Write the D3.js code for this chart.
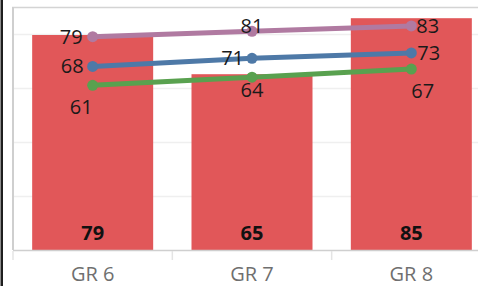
<!DOCTYPE html>
<html>
<head>
<meta charset="utf-8">
<script src="https://cdn.jsdelivr.net/npm/d3@7"></script>
<style>
  body { margin: 0; background: #fff; }
  svg { display: block; font-family: "Open Sans", sans-serif; }
</style>
</head>
<body>
<svg id="chart" width="478" height="286"></svg>
<script>
var grades = ["GR 6", "GR 7", "GR 8"];
var barValues = [79, 65, 85];
var purpleValues = [79, 81, 83];
var blueValues = [68, 71, 73];
var greenValues = [61, 64, 67];
var gridTicks = [20, 40, 60, 80];

var svg = d3.select('#chart');
var baseY = 250;

var x = d3.scaleBand()
    .domain(grades)
    .range([13, 491])
    .paddingInner(0)
    .paddingOuter(0);

// lines axis
var y = d3.scaleLinear().domain([0, 90]).range([baseY, 7]);
// bar axis (not synced with the lines axis)
var yBar = d3.scaleLinear().domain([0, 90]).range([256.2, 4.2]);

var barW = 121;
var cx = d => x(d) + x.bandwidth() / 2;

// left dark stripe
svg.append('rect')
    .attr('x', 0.5).attr('y', 0)
    .attr('width', 2.5).attr('height', 286)
    .attr('fill', '#1e1e1e');

// gridlines
svg.selectAll()
    .data(gridTicks)
    .enter().append('line')
    .attr('x1', 14).attr('x2', 478)
    .attr('y1', d => Math.round(y(d)) + 0.5)
    .attr('y2', d => Math.round(y(d)) + 0.5)
    .attr('stroke', '#efefef')
    .attr('stroke-width', 1.5);

// frame
svg.append('line')
    .attr('x1', 12).attr('x2', 478).attr('y1', 7.5).attr('y2', 7.5)
    .attr('stroke', '#d4d4d4').attr('stroke-width', 1.5);
svg.append('line')
    .attr('x1', 13).attr('x2', 13).attr('y1', 7).attr('y2', baseY)
    .attr('stroke', '#cfcfcf').attr('stroke-width', 2);

// bars
svg.selectAll()
    .data(grades)
    .enter().append('rect')
    .attr('x', d => cx(d) - barW / 2)
    .attr('width', barW)
    .attr('y', (d, i) => yBar(barValues[i]))
    .attr('height', (d, i) => baseY - yBar(barValues[i]))
    .attr('fill', '#E15759');

// baseline + ticks
svg.append('line')
    .attr('x1', 13).attr('x2', 478).attr('y1', baseY + 0.5).attr('y2', baseY + 0.5)
    .attr('stroke', '#cfcfcf').attr('stroke-width', 1.5);
svg.selectAll()
    .data(grades)
    .enter().append('line')
    .attr('x1', d => x(d)).attr('x2', d => x(d))
    .attr('y1', baseY + 1).attr('y2', baseY + 10)
    .attr('stroke', '#e4e4e4').attr('stroke-width', 1.5);

// bar labels
svg.selectAll()
    .data(grades)
    .enter().append('text')
    .attr('x', d => cx(d))
    .attr('y', 240)
    .attr('text-anchor', 'middle')
    .attr('font-size', 20)
    .attr('font-weight', 'bold')
    .attr('fill', '#111')
    .text((d, i) => barValues[i]);

// category labels
svg.selectAll()
    .data(grades)
    .enter().append('text')
    .attr('x', d => cx(d))
    .attr('y', 281)
    .attr('text-anchor', 'middle')
    .attr('font-size', 20)
    .attr('fill', '#6f6f6f')
    .text(d => d);

// lines
var series = [
    { values: purpleValues, color: '#B07AA1',
      labels: [['end', -10, 7], ['middle', 0, 1.6], ['start', 5, 7]] },
    { values: blueValues, color: '#4E79A7',
      labels: [['end', -9, 7], ['end', -8, 7], ['start', 6, 7]] },
    { values: greenValues, color: '#59A14F',
      labels: [['end', 0, 28.7], ['middle', 0, 19.3], ['start', 0, 29.3]] }
];

var line = d3.line()
    .x((d, i) => cx(grades[i]))
    .y(d => y(d));

series.forEach(function (s) {
    svg.append('path')
        .datum(s.values)
        .attr('d', line)
        .attr('fill', 'none')
        .attr('stroke', s.color)
        .attr('stroke-width', 5);

    svg.selectAll()
        .data(s.values)
        .enter().append('circle')
        .attr('cx', (d, i) => cx(grades[i]))
        .attr('cy', d => y(d))
        .attr('r', 5.5)
        .attr('fill', s.color);
});

series.forEach(function (s) {
    svg.selectAll()
        .data(s.values)
        .enter().append('text')
        .attr('x', (d, i) => cx(grades[i]) + s.labels[i][1])
        .attr('y', (d, i) => y(d) + s.labels[i][2])
        .attr('text-anchor', (d, i) => s.labels[i][0])
        .attr('font-size', 20)
        .attr('fill', '#1a1a1a')
        .text(d => d);
});
</script>
</body>
</html>
